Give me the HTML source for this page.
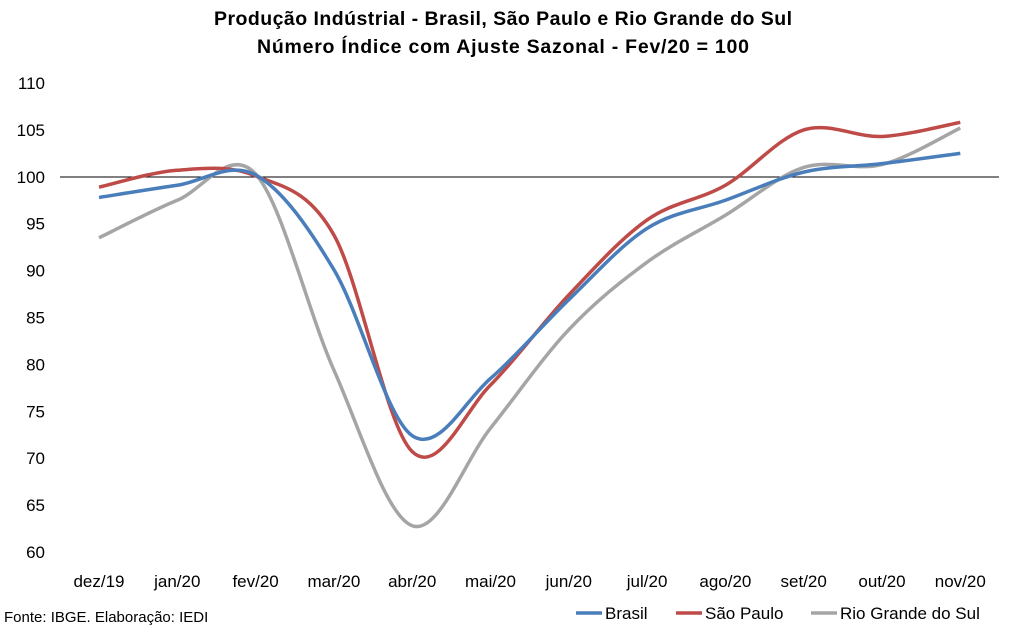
<!DOCTYPE html>
<html><head><meta charset="utf-8"><style>
body{margin:0;background:#fff;}
svg text{font-family:"Liberation Sans",sans-serif;}
</style></head><body>
<svg id="c" width="1013" height="631" viewBox="0 0 1013 631" xmlns="http://www.w3.org/2000/svg">
<text x="503" y="25" text-anchor="middle" font-size="19.5" font-weight="bold" fill="#000" textLength="578">Produção Indústrial - Brasil, São Paulo e Rio Grande do Sul</text>
<text x="503" y="53" text-anchor="middle" font-size="19.5" font-weight="bold" fill="#000" textLength="492">Número Índice com Ajuste Sazonal - Fev/20 = 100</text>
<line x1="60" y1="177" x2="999" y2="177" stroke="#000" stroke-width="1"/>
<g font-size="17" fill="#000" text-anchor="end" id="yl"></g>
<g font-size="17" fill="#000" text-anchor="middle" id="xl"></g>
<g id="ser" fill="none" stroke-width="3.5"></g>
<text x="4" y="622" font-size="15" fill="#000">Fonte: IBGE. Elaboração: IEDI</text>
<line x1="576" y1="613" x2="602" y2="613" stroke="#4a7ebb" stroke-width="3.5"/>
<text x="605" y="619" font-size="17" fill="#000">Brasil</text>
<line x1="676" y1="613" x2="702" y2="613" stroke="#be4b48" stroke-width="3.5"/>
<text x="705" y="619" font-size="17" fill="#000">São Paulo</text>
<line x1="811" y1="613" x2="837" y2="613" stroke="#a5a5a5" stroke-width="3.5"/>
<text x="840" y="619" font-size="17" fill="#000">Rio Grande do Sul</text>
</svg>
<script>
var NS="http://www.w3.org/2000/svg";
function Y(v){return 552-(v-60)*9.38;}
function X(i){return 99+i*78.3;}
var yl=document.getElementById('yl');
for(var v=60;v<=110;v+=5){var t=document.createElementNS(NS,'text');t.setAttribute('x',45);t.setAttribute('y',Y(v)+6);t.textContent=v;yl.appendChild(t);}
var labs=["dez/19","jan/20","fev/20","mar/20","abr/20","mai/20","jun/20","jul/20","ago/20","set/20","out/20","nov/20"];
var xl=document.getElementById('xl');
labs.forEach(function(l,i){var t=document.createElementNS(NS,'text');t.setAttribute('x',X(i));t.setAttribute('y',587);t.textContent=l;xl.appendChild(t);});
var S=[
["#a5a5a5",[93.5,97.5,100.3,79.4,62.8,73.2,83.7,90.9,95.9,101,101.3,105.2]],
["#be4b48",[98.9,100.7,100.1,93.8,70.7,77.8,87.4,95.4,99.1,105,104.3,105.8]],
["#4a7ebb",[97.8,99.1,100.2,90.1,72.4,78.5,86.9,94.5,97.5,100.5,101.4,102.5]]
];
var g=document.getElementById('ser');
S.forEach(function(s){
 var p=s[1].map(function(v,i){return [X(i),Y(v)];});
 var d="M"+p[0][0]+","+p[0][1];
 for(var i=0;i<p.length-1;i++){
  var p0=p[i-1]||p[i],p1=p[i],p2=p[i+1],p3=p[i+2]||p[i+1];
  var c1=[p1[0]+(p2[0]-p0[0])/6,p1[1]+(p2[1]-p0[1])/6];
  var c2=[p2[0]-(p3[0]-p1[0])/6,p2[1]-(p3[1]-p1[1])/6];
  d+=" C"+c1+" "+c2+" "+p2;
 }
 var e=document.createElementNS(NS,'path');e.setAttribute('d',d);e.setAttribute('stroke',s[0]);g.appendChild(e);
});
</script>
</body></html>
